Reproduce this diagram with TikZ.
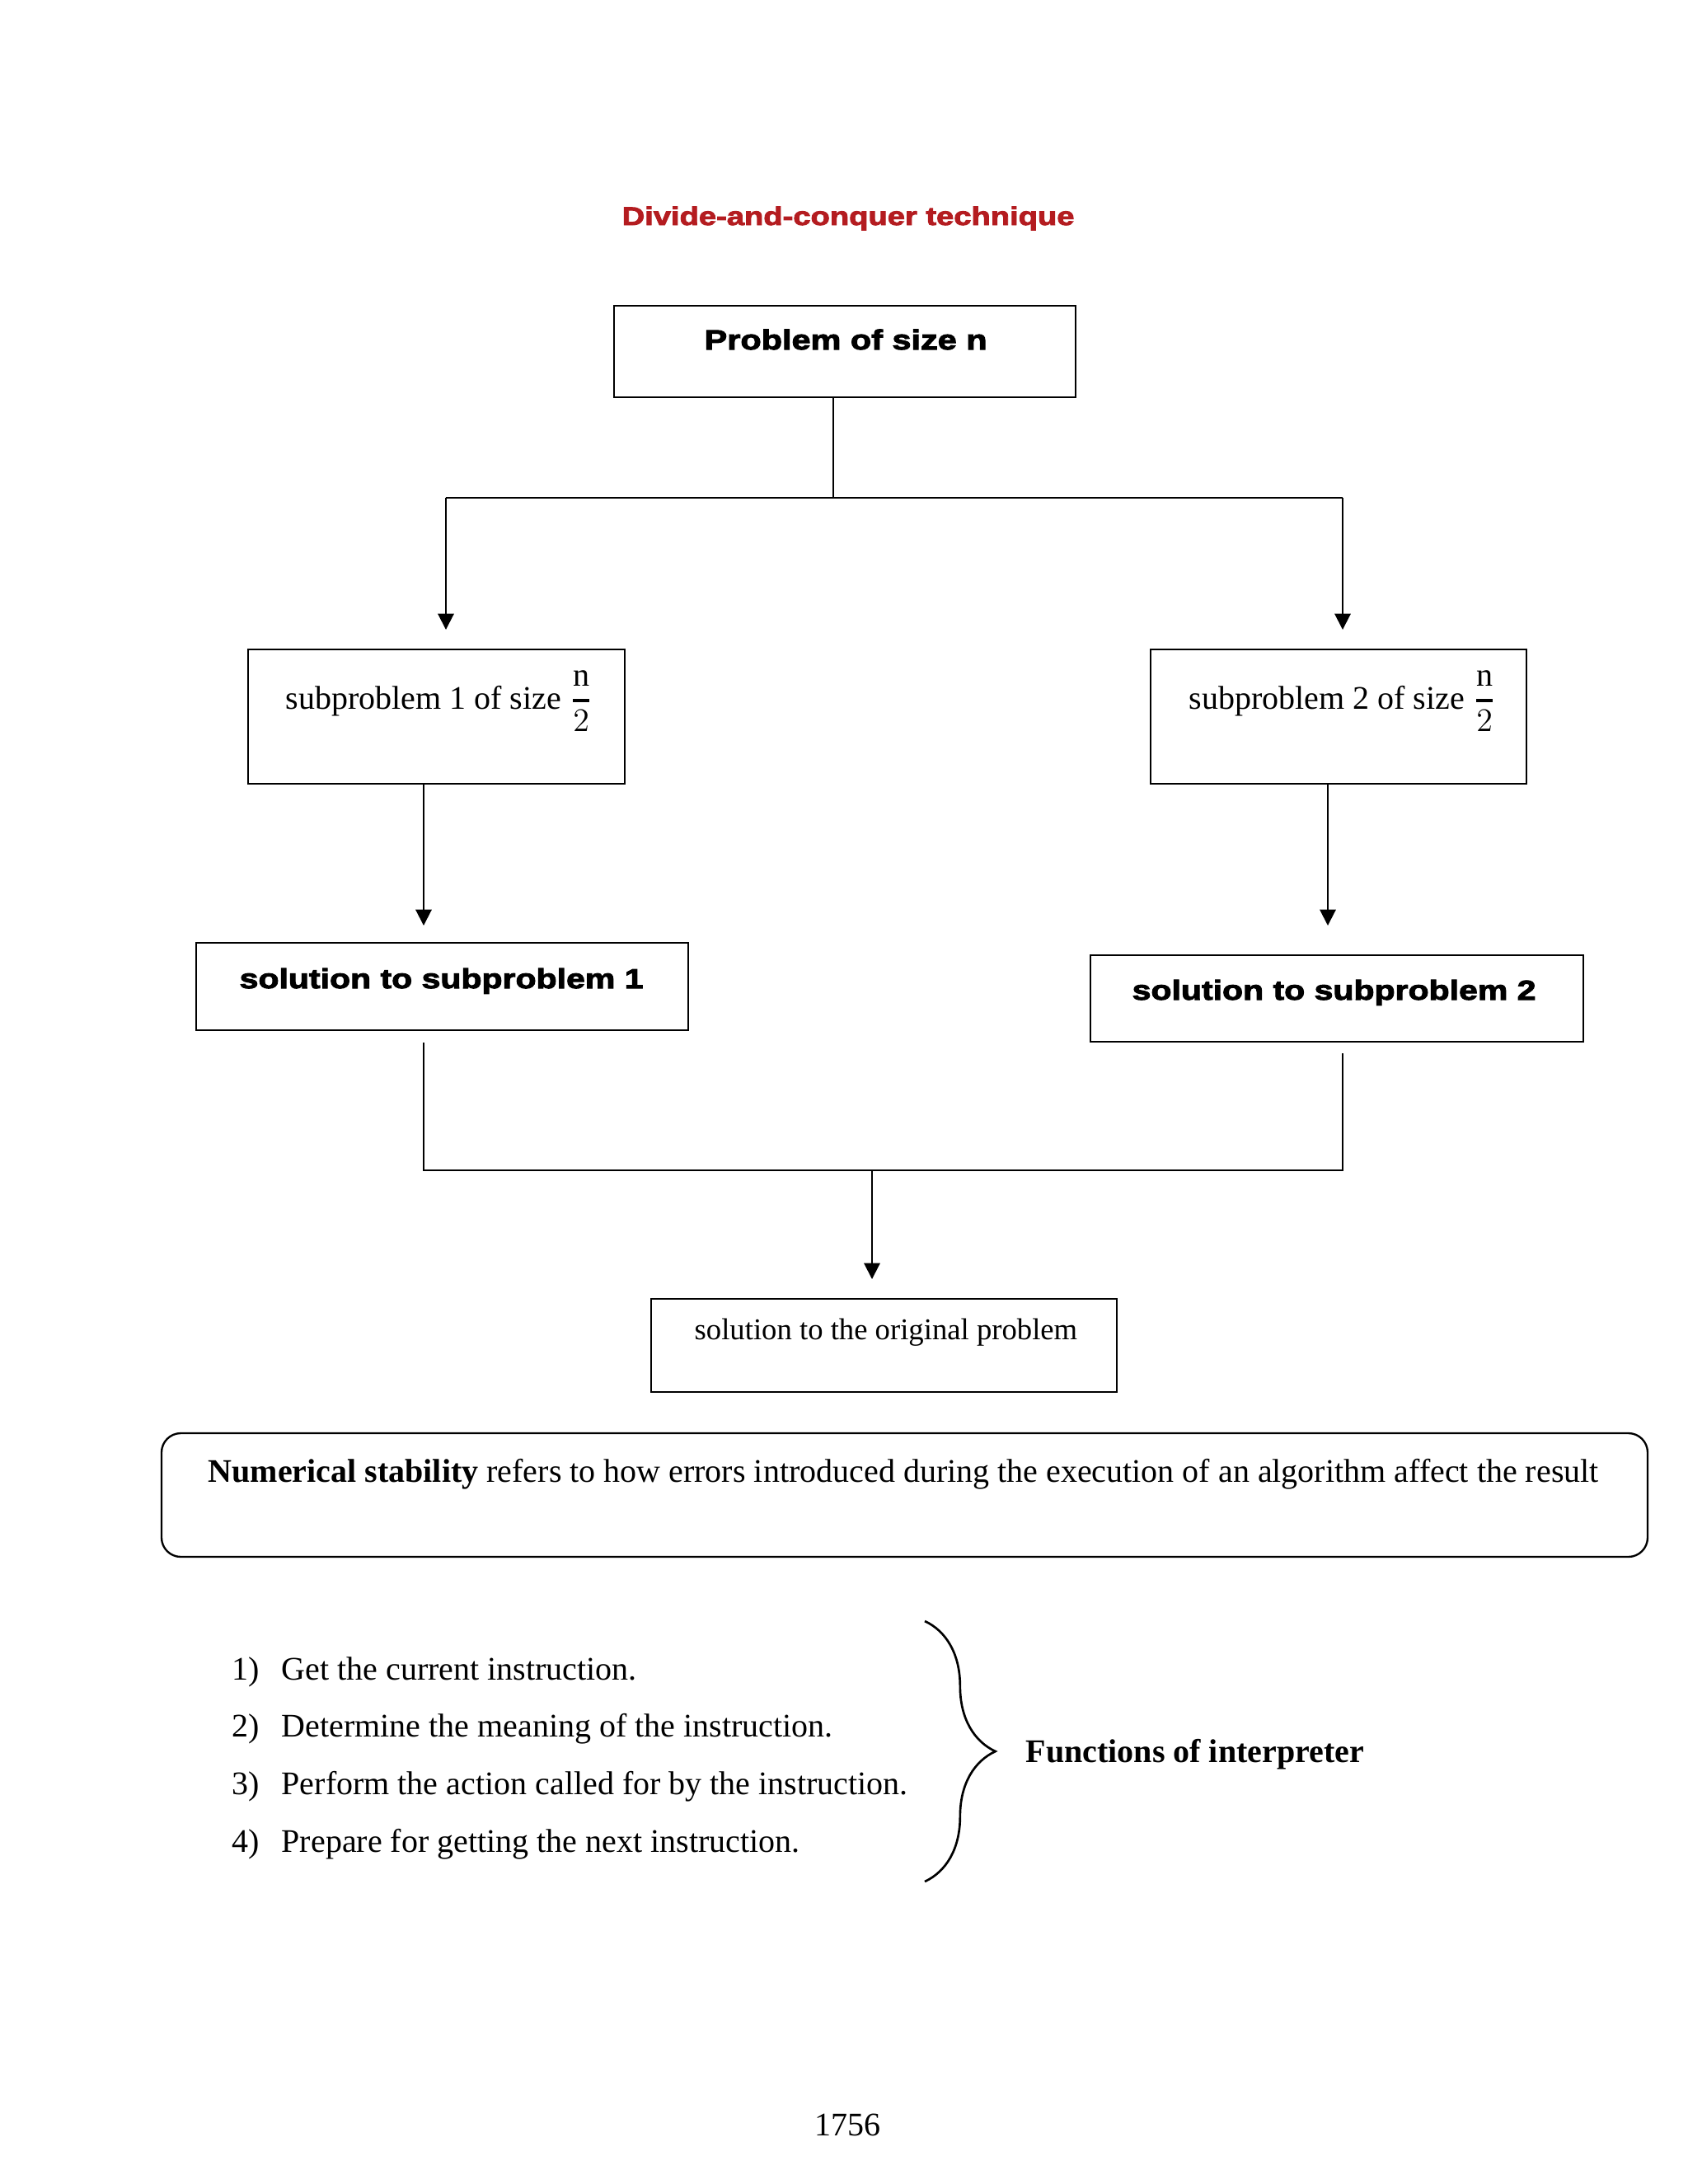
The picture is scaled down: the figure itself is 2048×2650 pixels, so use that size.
\documentclass[tikz,border=0pt]{standalone}
\usepackage{amsmath}
\usepackage{fontspec}
\setmainfont{Liberation Serif}
\newfontfamily\blk{Liberation Sans Bold}[FakeStretch=1.23,FakeBold=3]
\usetikzlibrary{arrows.meta,decorations.pathreplacing}
\definecolor{titlered}{RGB}{180,28,32}
\newlength\pxu
\setlength\pxu{0.2988bp}
\newcommand{\halffrac}{\ensuremath{\genfrac{}{}{1pt}{0}{\mathrm{n}}{2}}}
\begin{document}
\begin{tikzpicture}[x=0.2988bp,y=-0.2988bp,
  boxline/.style={draw=black,line width=0.7pt,inner sep=0pt,outer sep=0pt,rectangle},
  conn/.style={draw=black,line width=0.6pt},
  arr/.style={conn,-{Triangle[length=5.8pt,width=5.8pt]}},
  heavy/.style={inner sep=0pt,anchor=base west,font=\blk\fontsize{10pt}{12pt}\selectfont},
  serif/.style={inner sep=0pt,anchor=base west,font=\fontsize{12pt}{14pt}\selectfont}]
\useasboundingbox[fill=white] (0,0) rectangle (2048,2650);

% title
\node[heavy,font=\blk\fontsize{9.3pt}{11pt}\selectfont,text=titlered] (title) at (754,273) {Divide-and-conquer technique};

% boxes
\node[boxline,minimum width=560\pxu,minimum height=111\pxu] (A) at (1025,426.5) {};
\node[boxline,minimum width=457\pxu,minimum height=163\pxu] (B1) at (529.5,869.5) {};
\node[boxline,minimum width=456\pxu,minimum height=163\pxu] (B2) at (1624,869.5) {};
\node[boxline,minimum width=597\pxu,minimum height=106\pxu] (C1) at (536.5,1197) {};
\node[boxline,minimum width=598\pxu,minimum height=105\pxu] (C2) at (1622,1211.5) {};
\node[boxline,minimum width=565\pxu,minimum height=113\pxu] (D) at (1072.5,1632.5) {};
\node[boxline,rounded corners=7pt,minimum width=1803\pxu,minimum height=150\pxu] (E) at (1097.5,1814) {};

% box texts
\node[heavy,font=\blk\fontsize{10.1pt}{12pt}\selectfont] (Atext) at (854,424) {Problem of size n};
\node[serif] (B1text) at (346,860) {subproblem 1 of size \halffrac};
\node[serif] (B2text) at (1442,860) {subproblem 2 of size \halffrac};
\node[heavy] (C1text) at (290,1199) {solution to subproblem 1};
\node[heavy] (C2text) at (1373,1213) {solution to subproblem 2};
\node[serif,font=\fontsize{11pt}{13pt}\selectfont] (Dtext) at (842,1625) {solution to the original problem};
\node[serif] (Etext) at (252,1798) {\textbf{Numerical stability} refers to how errors introduced during the execution of an algorithm affect the result};

% connectors
\coordinate (split) at (1011,604);
\coordinate (L) at (541,604);
\coordinate (R) at (1629,604);
\coordinate (Ltip) at (541,764);
\coordinate (Rtip) at (1629,764);
\draw[conn] (A.south -| split) -- (split);
\draw[conn] (L) -- (R);
\draw[arr] (L) -- (Ltip);
\draw[arr] (R) -- (Rtip);

\coordinate (B1tip) at (514,1123);
\coordinate (B2tip) at (1611,1123);
\draw[arr] (B1.south -| B1tip) -- (B1tip);
\draw[arr] (B2.south -| B2tip) -- (B2tip);

\coordinate (C1start) at (514,1265);
\coordinate (C2start) at (1629,1278);
\coordinate (J1) at (514,1420);
\coordinate (J2) at (1629,1420);
\coordinate (Jm) at (1058,1420);
\coordinate (Dtip) at (1058,1552);
\draw[conn] (C1start) -- (J1) -- (J2) -- (C2start);
\draw[arr] (Jm) -- (Dtip);

% list
\foreach \i/\t/\yy in {1/Get the current instruction./2038,
                        2/Determine the meaning of the instruction./2107,
                        3/Perform the action called for by the instruction./2177,
                        4/Prepare for getting the next instruction./2247}{
  \node[serif] (num\i) at (281,\yy) {\i)};
  \node[serif] (item\i) at (341,\yy) {\t};
}
\coordinate (braceTop) at (1122,1967);
\coordinate (braceBot) at (1122,2283);
\draw[line width=0.8pt,decorate,decoration={brace,amplitude=25.7pt,aspect=0.5}] (braceTop) -- (braceBot);
\node[serif] (func) at (1244,2138) {\textbf{Functions of interpreter}};

% page number
\node[serif] (page) at (988,2591) {1756};
\end{tikzpicture}
\end{document}
